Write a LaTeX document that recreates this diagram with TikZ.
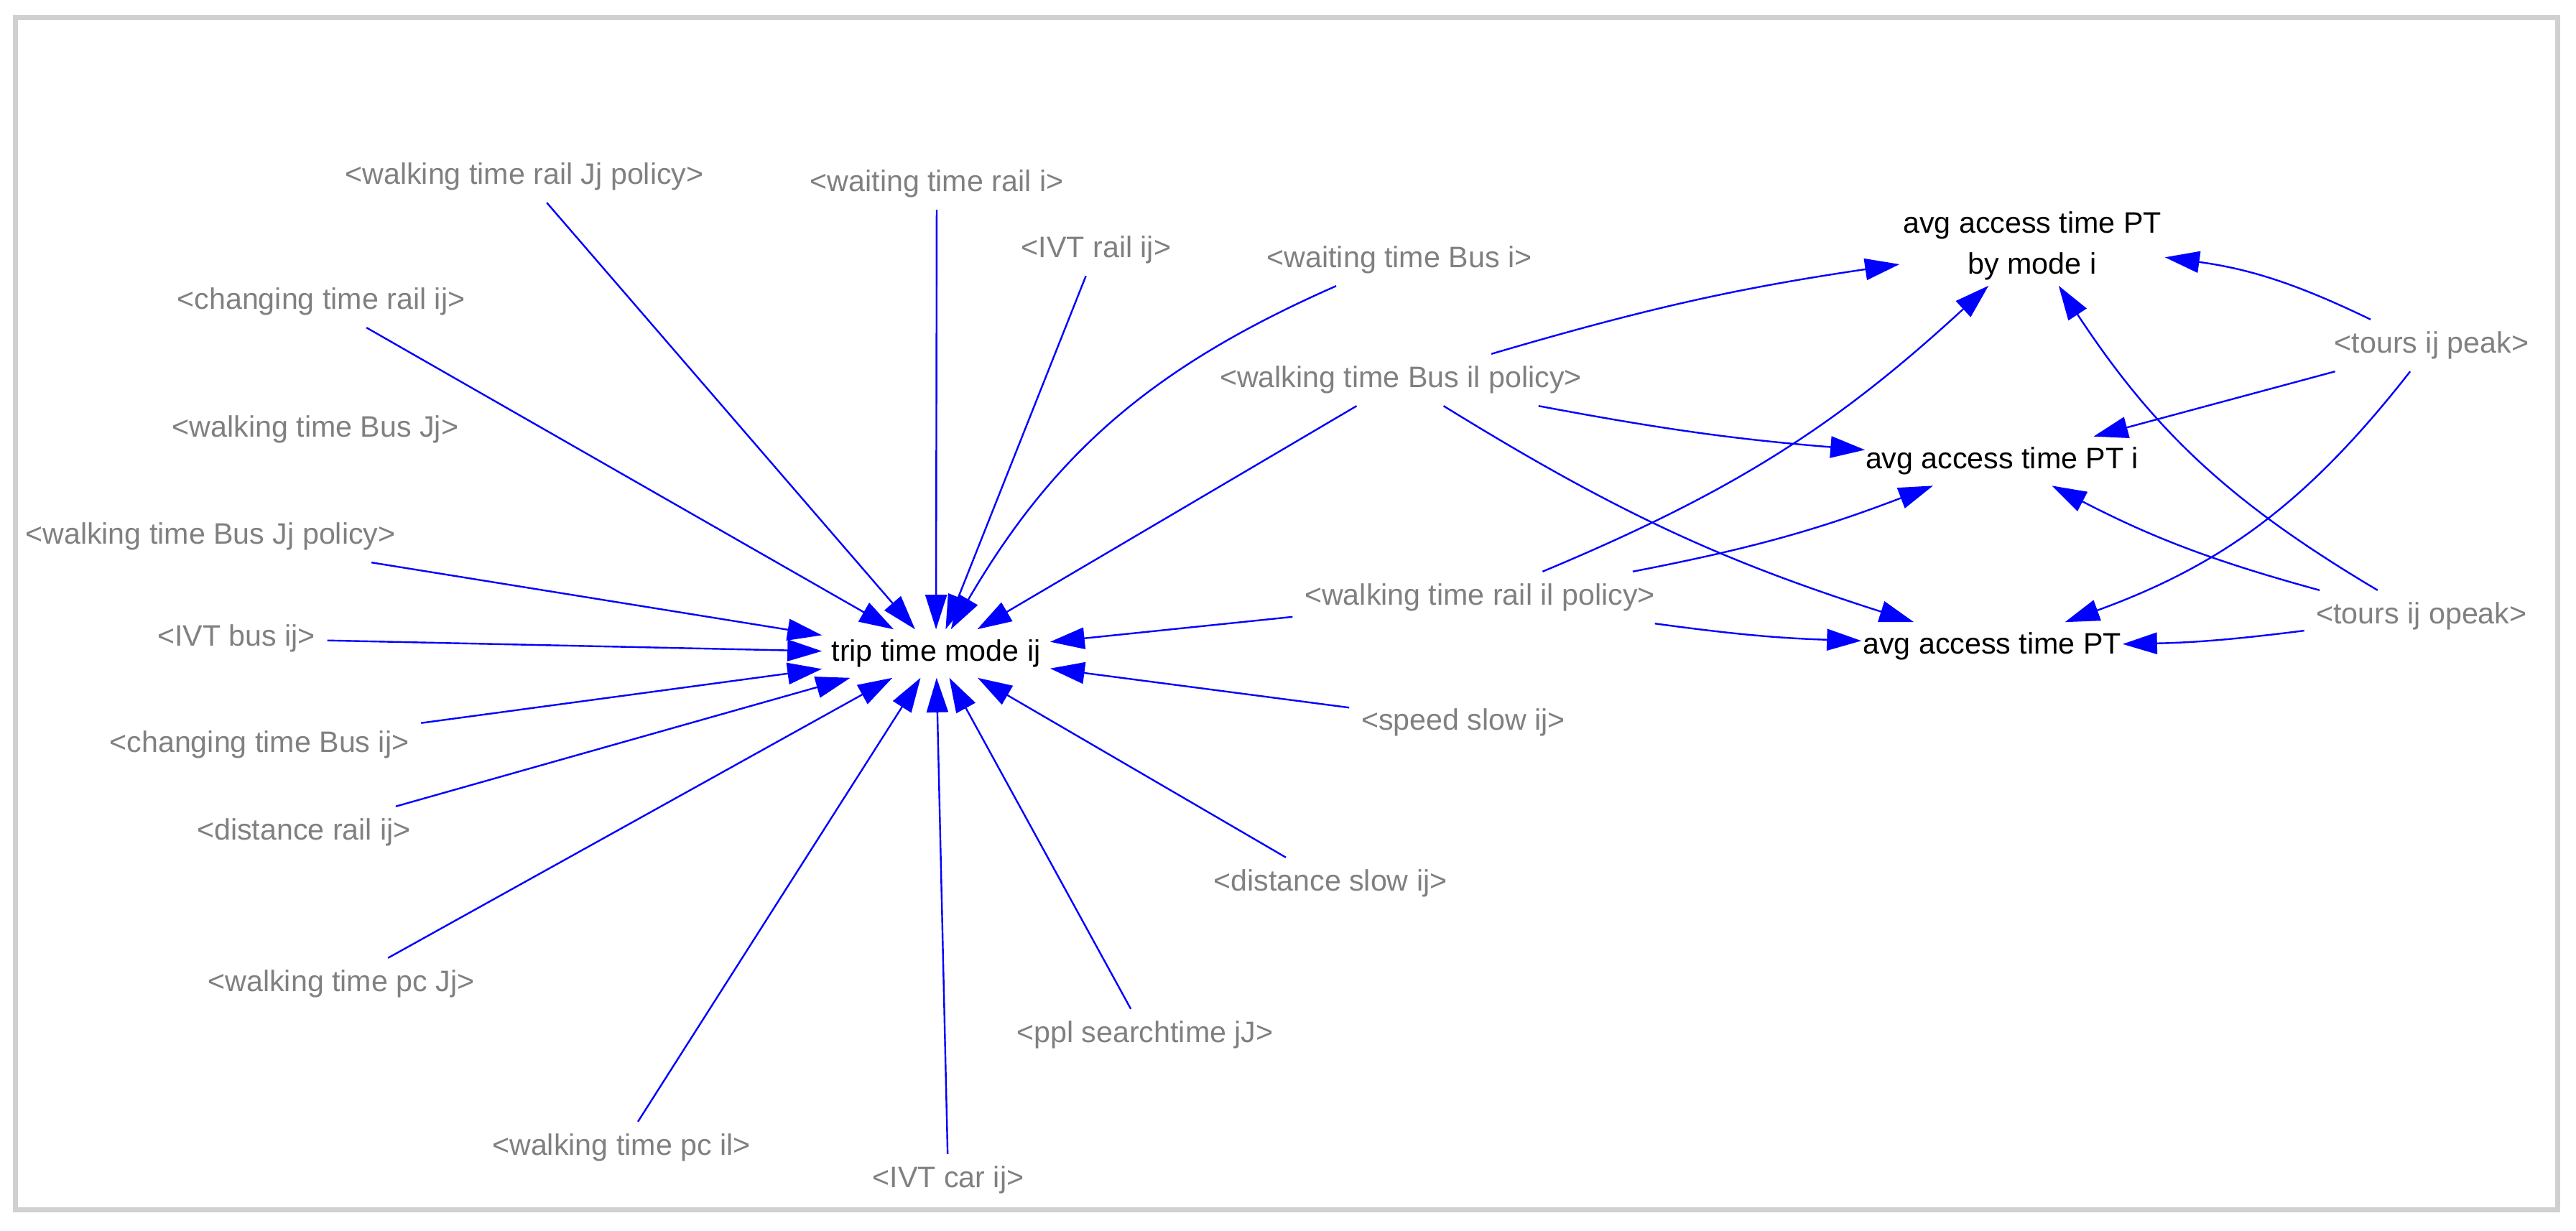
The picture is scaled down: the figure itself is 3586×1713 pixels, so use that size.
\documentclass[tikz,border=0pt]{standalone}
\usepackage{fontspec}
\setmainfont{Liberation Sans}
\usetikzlibrary{arrows.meta}
\definecolor{labgray}{RGB}{128,128,128}
\definecolor{framegray}{RGB}{208,208,208}
\definecolor{arrblue}{RGB}{0,0,255}
\begin{document}
\begin{tikzpicture}[x=0.25pt,y=-0.25pt,
  lbl/.style={text=labgray, font=\fontsize{10.3pt}{12pt}\selectfont, inner xsep=4pt, inner ysep=4pt, text height=7.5pt, text depth=2.2pt},
  var/.style={text=black, font=\fontsize{10.3pt}{14.25pt}\selectfont, inner sep=0pt},
  arr/.style={draw=arrblue, line width=0.6pt, -{Triangle[length=12pt,width=7.5pt]}},
]
\useasboundingbox (0,0) rectangle (3586,1713);
\draw[framegray, line width=1.75pt] (21.5,24.5) rectangle (3560.5,1684);

% main variables
\node[var, text height=7.5pt, text depth=2.2pt, minimum width=79pt, minimum height=16.5pt] (T) at (1303,910) {trip time mode ij};
\node[var, align=center, minimum width=92pt, minimum height=27.5pt] (Am) at (2829,342) {avg access time PT\\by mode i};
\node[var, text height=7.5pt, text depth=2.2pt, minimum width=95pt, minimum height=16.75pt] (Ai) at (2787,642) {avg access time PT i};
\node[var, text height=7.5pt, text depth=2.2pt, minimum width=90.5pt, minimum height=16.5pt] (A) at (2773,900) {avg access time PT};

% shadow variables
\node[lbl] (wrJp) at (730,246) {<walking time rail Jj policy>};
\node[lbl] (wri) at (1304,256) {<waiting time rail i>};
\node[lbl] (IVTr) at (1526,348) {<IVT rail ij>};
\node[lbl] (wBi) at (1948,362) {<waiting time Bus i>};
\node[lbl] (ctr) at (447,420) {<changing time rail ij>};
\node[lbl] (wBilp) at (1950,529) {<walking time Bus il policy>};
\node[lbl] (wBJ) at (439,598) {<walking time Bus Jj>};
\node[lbl] (wBJp) at (293,747) {<walking time Bus Jj policy>};
\node[lbl] (IVTb) at (329,889) {<IVT bus ij>};
\node[lbl] (ctB) at (361,1037) {<changing time Bus ij>};
\node[lbl] (drail) at (423,1159) {<distance rail ij>};
\node[lbl] (ss) at (2037,1006) {<speed slow ij>};
\node[lbl] (ds) at (1852,1230) {<distance slow ij>};
\node[lbl] (wpcJ) at (475,1370) {<walking time pc Jj>};
\node[lbl] (pps) at (1594,1441) {<ppl searchtime jJ>};
\node[lbl] (wpci) at (865,1598) {<walking time pc il>};
\node[lbl] (IVTc) at (1320,1643) {<IVT car ij>};
\node[lbl] (wrilp) at (2060,832) {<walking time rail il policy>};
\node[lbl] (toursp) at (3385,481) {<tours ij peak>};
\node[lbl] (tourso) at (3371,858) {<tours ij opeak>};

% connectors into trip time mode ij
\draw[arr] (wrJp) -- (T);
\draw[arr] (wri) -- (T);
\draw[arr] (IVTr) -- (T);
\draw[arr] (wBi) to[bend right=18] (T);
\draw[arr] (ctr) -- (T);
\draw[arr] (wBilp) -- (T);
\draw[arr] (wBJp) -- (T);
\draw[arr] (IVTb) -- (T);
\draw[arr] (ctB) -- (T);
\draw[arr] (drail) -- (T);
\draw[arr] (wpcJ) -- (T);
\draw[arr] (wpci) -- (T);
\draw[arr] (IVTc) -- (T);
\draw[arr] (pps) -- (T);
\draw[arr] (ds) -- (T);
\draw[arr] (ss) -- (T);
\draw[arr] (wrilp) -- (T);

% connectors into access time variables
\draw[arr] (wBilp) to[bend left=4] (Am);
\draw[arr] (wBilp) to[bend right=3] (Ai);
\draw[arr] (wBilp) to[bend right=7] (A);
\draw[arr] (wrilp) to[bend right=10] (Am);
\draw[arr] (wrilp) to[bend right=5] (Ai);
\draw[arr] (wrilp) to[bend right=3] (A);
\draw[arr] (toursp) to[bend right=9] (Am);
\draw[arr] (toursp) -- (Ai);
\draw[arr] (toursp) to[bend left=16] (A);
\draw[arr] (tourso) to[bend left=13] (Am);
\draw[arr] (tourso) to[bend left=6] (Ai);
\draw[arr] (tourso) to[bend left=3] (A);
\end{tikzpicture}
\end{document}
